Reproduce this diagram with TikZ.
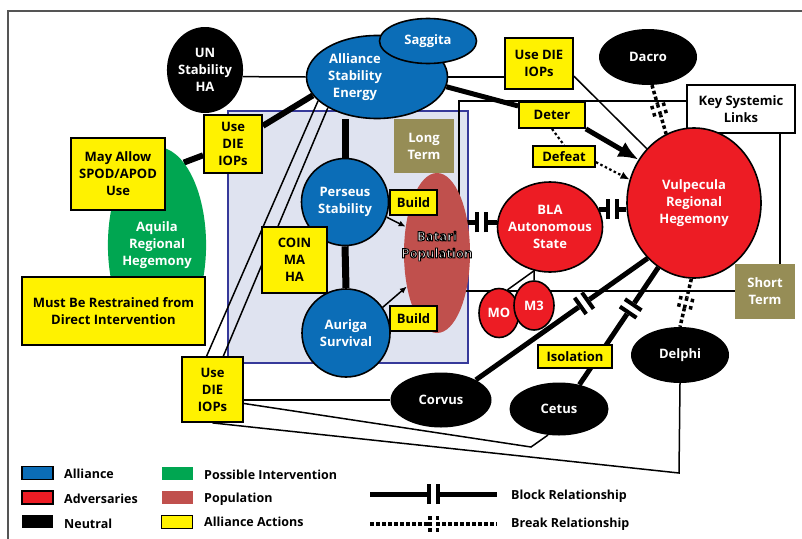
\documentclass[tikz,border=0pt]{standalone}
\usepackage{fontspec}
\setmainfont{Open Sans}
\usetikzlibrary{shapes.geometric, arrows.meta, calc}

\definecolor{allyblue}{HTML}{0B6DB7}
\definecolor{foered}{HTML}{ED1C24}
\definecolor{aquilagreen}{HTML}{00A651}
\definecolor{popred}{HTML}{C0504D}
\definecolor{actyellow}{HTML}{FFF200}
\definecolor{termolive}{HTML}{968D56}
\definecolor{regionfill}{HTML}{DFE3F0}
\definecolor{regionedge}{HTML}{36399A}
\definecolor{framegray}{HTML}{555555}

\pgfdeclarelayer{bg}
\pgfdeclarelayer{links}
\pgfsetlayers{bg,links,main}

\newcommand{\blockbars}{\rule{4pt}{20pt}\hspace{5pt}\rule{4pt}{20pt}}
\newcommand{\dotcol}{\vbox{\offinterlineskip\hbox{\rule{3.5pt}{3.5pt}}\kern2.5pt\hbox{\rule{3.5pt}{3.5pt}}\kern2.5pt\hbox{\rule{3.5pt}{3.5pt}}}}
\newcommand{\breakbars}{\dotcol\hspace{4pt}\dotcol}
\newcommand{\halo}[1]{\special{pdf:literal direct 2 Tr 0.95 w 0 0 0 RG}#1\special{pdf:literal direct 0 Tr}}

\tikzset{
  lbl/.style={font=\bfseries\fontsize{13}{17}\selectfont, align=center},
  ally/.style={lbl, ellipse, fill=allyblue, draw=black, line width=1.6pt, text=white, inner sep=0pt},
  foe/.style={lbl, ellipse, fill=foered, draw=black, line width=1.6pt, text=white, inner sep=0pt},
  neutral/.style={lbl, ellipse, fill=black, text=white, inner sep=0pt},
  action/.style={lbl, rectangle, fill=actyellow, draw=black, line width=1.8pt, inner sep=0pt},
  term/.style={lbl, rectangle, fill=termolive, text=white, inner sep=0pt},
  link/.style={line width=1.5pt},
  heavy/.style={line width=5pt},
  block/.style={line width=5pt},
  brk/.style={line width=3.5pt, dash pattern=on 3.5pt off 2.5pt},
  dotlink/.style={line width=2.2pt, dash pattern=on 2.5pt off 2.5pt},
  blockmark/.style={sloped, fill=white, inner sep=0pt},
  keytxt/.style={font=\bfseries\fontsize{12.5}{15}\selectfont, anchor=west, inner sep=0pt},
  swatch/.style={minimum width=31pt, minimum height=13pt, inner sep=0pt}
}

\begin{document}
\begin{tikzpicture}[x=1pt, y=-1pt]
  \useasboundingbox (0,0) rectangle (802,538);

  % actors
  \node[neutral, minimum width=74pt, minimum height=86pt] (un) at (205,70) {UN\\Stability\\HA};
  \node[ally, minimum width=141pt, minimum height=83pt,
        label={[lbl, text=white, xshift=-22pt]center:{Alliance\\Stability\\Energy}}] (alliance) at (377,77) {};
  \node[ally, minimum width=97pt, minimum height=45pt] (saggita) at (428,41) {Saggita};
  \node[ally, circle, minimum size=87pt] (perseus) at (345,202) {Perseus\\Stability};
  \node[ally, circle, minimum size=88pt] (auriga) at (346,333) {Auriga\\Survival};
  \node[lbl, ellipse, fill=aquilagreen, text=white, minimum width=94pt, minimum height=196pt, inner sep=0pt] (aquila) at (157,245) {Aquila\\Regional\\Hegemony};
  \node[ellipse, fill=popred, minimum width=66pt, minimum height=160pt, inner sep=0pt] (batari) at (437,253) {};
  \node[lbl, text=white] (bataritext) at (437,246) {\halo{Batari}\\\halo{Population}};
  \node[term, minimum width=60pt, minimum height=54pt] (longterm) at (424,146) {Long\\Term};
  \node[term, minimum width=60pt, minimum height=55pt] (shortterm) at (765,291) {Short\\Term};
  \node[lbl, draw=black, fill=white, line width=1.5pt, minimum width=108pt, minimum height=48pt, inner sep=0pt] (keylinks) at (741,109) {Key Systemic\\Links};
  \node[foe, minimum width=105pt, minimum height=90pt, inner xsep=-14pt] (bla) at (550,227) {BLA\\Autonomous\\State};
  \node[foe, minimum width=134pt, minimum height=150pt] (vulpecula) at (694,203) {Vulpecula\\Regional\\Hegemony};
  \node[foe, minimum width=40pt, minimum height=49pt] (mo) at (499,313) {MO};
  \node[foe, minimum width=40pt, minimum height=49pt] (m3) at (534,305.5) {M3};
  \node[neutral, minimum width=98pt, minimum height=56pt] (dacro) at (648,57) {Dacro};
  \node[neutral, minimum width=98pt, minimum height=56pt] (delphi) at (680,355) {Delphi};
  \node[neutral, minimum width=101pt, minimum height=55pt] (corvus) at (441,400) {Corvus};
  \node[neutral, minimum width=99pt, minimum height=53pt] (cetus) at (559,409) {Cetus};

  % actions
  \node[action, minimum width=58pt, minimum height=58pt] (usediea) at (233,144) {Use\\DIE\\IOPs};
  \node[action, minimum width=94pt, minimum height=72pt] (mayallow) at (118,174) {May Allow\\SPOD/APOD\\Use};
  \node[action, minimum width=183pt, minimum height=68pt] (restrain) at (113.5,311) {Must Be Restrained from\\Direct Intervention};
  \node[action, minimum width=65pt, minimum height=66pt] (coin) at (294.5,260) {COIN\\MA\\HA};
  \node[action, minimum width=47pt, minimum height=25pt] (buildp) at (413.5,202.5) {Build};
  \node[action, minimum width=47pt, minimum height=25pt] (builda) at (413.5,318.5) {Build};
  \node[action, minimum width=68pt, minimum height=51pt] (usedieb) at (539,63.5) {Use DIE\\IOPs};
  \node[action, minimum width=66pt, minimum height=26pt] (deter) at (552,115) {Deter};
  \node[action, minimum width=62pt, minimum height=21pt] (defeat) at (564,156.5) {Defeat};
  \node[action, minimum width=74pt, minimum height=23pt] (isolation) at (575,356.5) {Isolation};
  \node[action, minimum width=61pt, minimum height=65pt] (usediec) at (212.5,389.5) {Use\\DIE\\IOPs};

  \begin{pgfonlayer}{bg}
    \draw[framegray, line width=2pt] (8,545) -- (8,11) -- (810,11);
    \draw[regionedge, fill=regionfill, line width=1.3pt] (228,111) rectangle (468,363);
  \end{pgfonlayer}

  \begin{pgfonlayer}{links}
    \draw[link] (459,101) rectangle (780,291);
    \draw[link] (un.-10) -- (alliance.west);
    \draw[line width=6pt] (alliance.196) -- (usediea);
    \draw[line width=6pt] (usediea) -- (aquila.72);
    \draw[link] (alliance.east) -- (alliance.east -| usedieb.west);
    \draw[link] (usedieb.-20) -- (vulpecula.131);
    \draw[heavy] (alliance.-8) -- (deter);
    \draw[heavy, -{Latex[length=20pt,width=17pt]}] (deter.south east) -- (vulpecula.142);
    \draw[dotlink] (deter.south) -- (defeat.north);
    \draw[dotlink, -{Latex[length=9pt,width=8pt]}] (defeat.-10) -- (vulpecula.160);
    \draw[line width=7pt] (perseus.north) -- (perseus.north |- alliance.south);
    \draw[line width=7pt] (perseus.south) -- (auriga.north);
    \draw[link, -{Latex[length=7pt,width=6pt]}] (perseus.-20) -- (batari.140);
    \draw[link, -{Latex[length=7pt,width=6pt]}] (auriga.35) -- (batari.228);
    \draw[link] (alliance.202) -- (usediec.100);
    \draw[link] (alliance.212) -- (usediec.72);
    \draw[link] (corvus.west) -- (corvus.west -| usediec.east);
    \coordinate (cetusbend) at (531,447);
    \coordinate (delphibend) at (679,473);
    \draw[link] (usediec.-24) -- (cetusbend) -- (cetus.247);
    \draw[link] (usediec.south) -- (delphibend) -- (delphi.south);
    \draw[link] (bla.250) -- (m3.north);
    \draw[link] (bla.250) -- (mo.70);
    \draw[block] (bla.175) -- node[blockmark, pos=0.25] {\blockbars} (bla.175 -| batari.center);
    \draw[block] (bla.20) -- node[blockmark] {\blockbars} (bla.20 -| vulpecula.west);
    \draw[block] (corvus.30) -- node[blockmark, pos=0.63] {\blockbars} (vulpecula.230);
    \draw[block] (cetus.50) -- node[blockmark, pos=0.65] {\blockbars} (vulpecula.241);
    \draw[brk] (dacro.-82) -- node[blockmark] {\breakbars} (vulpecula.112);
    \draw[brk] (vulpecula.-92) -- node[blockmark] {\breakbars} (delphi.north);
  \end{pgfonlayer}

  % legend
  \node[swatch, fill=allyblue, draw=black, line width=1.5pt] (keyally) at (37.5,473) {};
  \node[swatch, fill=foered, draw=black, line width=1.5pt] (keyfoe) at (37.5,497.5) {};
  \node[swatch, fill=black] (keyneutral) at (37.5,521.5) {};
  \node[swatch, fill=aquilagreen] (keygreen) at (177,473) {};
  \node[swatch, fill=popred] (keypop) at (177,497) {};
  \node[swatch, fill=actyellow, draw=black, line width=1.5pt] (keyaction) at (177,522) {};
  \node[keytxt] (keyallytxt) at (64,474) {Alliance};
  \node[keytxt] (keyfoetxt) at (64,499) {Adversaries};
  \node[keytxt] (keyneutraltxt) at (64,524) {Neutral};
  \node[keytxt] (keygreentxt) at (204,475) {Possible Intervention};
  \node[keytxt] (keypoptxt) at (204,499) {Population};
  \node[keytxt] (keyactiontxt) at (204,522) {Alliance Actions};
  \coordinate (blkA) at (370,494);
  \coordinate (blkB) at (497,494);
  \coordinate (brkA) at (370,524);
  \coordinate (brkB) at (497,524);
  \draw[block] (blkA) -- node[blockmark] {\blockbars} (blkB);
  \draw[brk] (brkA) -- node[blockmark] {\breakbars} (brkB);
  \node[keytxt] (blocktxt) at (511,496) {Block Relationship};
  \node[keytxt] (breaktxt) at (511,524) {Break Relationship};
\end{tikzpicture}
\end{document}
